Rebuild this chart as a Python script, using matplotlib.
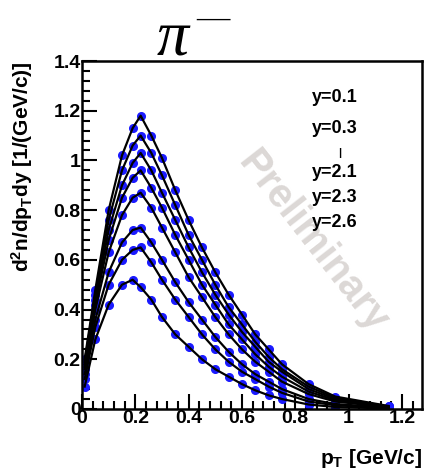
import matplotlib
matplotlib.use("Agg")
import matplotlib.pyplot as plt
from matplotlib.ticker import MultipleLocator, FuncFormatter

# pT bin centres [GeV/c]
pt = [0.01, 0.05, 0.10, 0.15, 0.19, 0.22, 0.26, 0.30, 0.35, 0.40,
      0.45, 0.50, 0.55, 0.60, 0.65, 0.70, 0.75, 0.85, 0.95, 1.15]

# dn/dpT dy for each rapidity slice (top to bottom)
spec_a = [0.20, 0.48, 0.80, 1.02, 1.13, 1.18, 1.10, 1.01, 0.88, 0.76,
          0.65, 0.55, 0.46, 0.38, 0.30, 0.24, 0.18, 0.10, 0.050, 0.012]
spec_b = [0.19, 0.46, 0.76, 0.96, 1.06, 1.10, 1.03, 0.94, 0.82, 0.70,
          0.60, 0.50, 0.41, 0.34, 0.27, 0.21, 0.16, 0.09, 0.045, 0.010]
spec_c = [0.18, 0.44, 0.72, 0.90, 0.99, 1.03, 0.96, 0.87, 0.76, 0.65,
          0.55, 0.46, 0.38, 0.31, 0.25, 0.19, 0.15, 0.08, 0.040, 0.009]
spec_d = [0.17, 0.42, 0.68, 0.85, 0.93, 0.96, 0.89, 0.81, 0.70, 0.60,
          0.50, 0.42, 0.34, 0.28, 0.22, 0.17, 0.13, 0.07, 0.035, 0.008]
spec_e = [0.16, 0.40, 0.63, 0.78, 0.85, 0.87, 0.81, 0.73, 0.63, 0.53,
          0.45, 0.37, 0.30, 0.24, 0.19, 0.15, 0.11, 0.06, 0.030, 0.007]
spec_f = [0.14, 0.36, 0.55, 0.67, 0.72, 0.73, 0.67, 0.60, 0.51, 0.43,
          0.36, 0.29, 0.23, 0.18, 0.14, 0.11, 0.08, 0.04, 0.020, 0.005]
spec_g = [0.12, 0.33, 0.50, 0.60, 0.64, 0.65, 0.59, 0.52, 0.44, 0.37,
          0.30, 0.24, 0.19, 0.15, 0.12, 0.09, 0.065, 0.03, 0.015, 0.004]
spec_h = [0.09, 0.28, 0.42, 0.50, 0.52, 0.49, 0.44, 0.37, 0.30, 0.25,
          0.20, 0.16, 0.13, 0.10, 0.075, 0.055, 0.04, 0.018, 0.008, 0.002]
spectra = [spec_a, spec_b, spec_c, spec_d, spec_e, spec_f, spec_g, spec_h]

legend_lines = ["y=0.1", "y=0.3", "|", "y=2.1", "y=2.3", "y=2.6"]

plt.rcParams["font.family"] = "Liberation Sans"
plt.rcParams["font.weight"] = "bold"
plt.rcParams["mathtext.fontset"] = "custom"
plt.rcParams["mathtext.rm"] = "Liberation Sans:bold"
plt.rcParams["mathtext.it"] = "Liberation Sans:bold"
plt.rcParams["mathtext.bf"] = "Liberation Sans:bold"

fig = plt.figure(figsize=(4.24, 4.76), dpi=100)
ax = fig.add_axes([0.1934, 0.1408, 0.8016, 0.731])

for ys in spectra:
    ax.plot(pt, ys, "o", color="#1a1aff", ms=5.5, mec="#1a1aff", zorder=2)
    ax.plot(pt, ys, "-", color="black", lw=1.6, zorder=3)

ax.set_xlim(0, 1.275)
ax.set_ylim(0, 1.4)
ax.xaxis.set_major_locator(MultipleLocator(0.2))
ax.xaxis.set_minor_locator(MultipleLocator(0.04))
ax.yaxis.set_major_locator(MultipleLocator(0.2))
ax.yaxis.set_minor_locator(MultipleLocator(0.04))
ax.xaxis.set_major_formatter(FuncFormatter(lambda v, p: f"{v:g}"))
ax.yaxis.set_major_formatter(FuncFormatter(lambda v, p: f"{v:g}"))
ax.tick_params(which="both", direction="in", top=False, right=False,
               width=1.5, labelsize=14, pad=1)
ax.tick_params(which="major", length=11)
ax.tick_params(which="minor", length=6)
for s in ax.spines.values():
    s.set_linewidth(1.8)

ax.set_ylabel(r"d$^2$n/dp$_{\rm T}$dy [1/(GeV/c)]", fontsize=15,
              fontweight="bold", loc="top", labelpad=13)
ax.set_xlabel(r"p$_{\rm T}$ [GeV/c]", fontsize=15, fontweight="bold",
              loc="right", labelpad=14)

# title: pi with superscript minus
fig.text(0.407, 0.917, "\u03c0", fontsize=46, family="Liberation Serif",
         style="italic", fontweight="normal", ha="center", va="center")
fig.text(0.503, 0.958, "\u2014", fontsize=24, family="Liberation Serif",
         fontweight="normal", ha="center", va="center")

rows = [0.894, 0.807, 0.735, 0.681, 0.609, 0.537]
for t, yy in zip(legend_lines, rows):
    if t == "|":
        ax.text(0.759, yy, t, transform=ax.transAxes, fontsize=8,
                ha="center", va="center")
    else:
        ax.text(0.676, yy, t, transform=ax.transAxes, fontsize=13,
                ha="left", va="center")

ax.text(0.68, 0.48, "Preliminary", transform=ax.transAxes, fontsize=29,
        color="#dcd8d6", rotation=-52, ha="center", va="center", zorder=1)

fig.savefig("out.png", dpi=100)
